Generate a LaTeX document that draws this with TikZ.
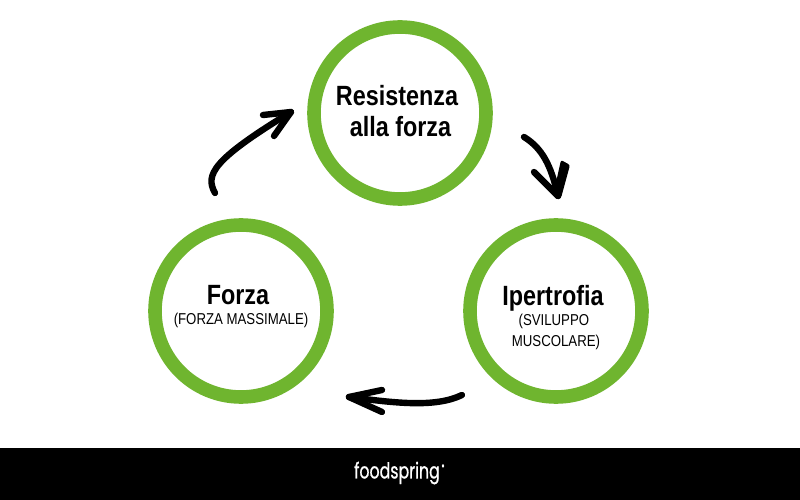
\documentclass[tikz,border=0pt]{standalone}
\usepackage{fontspec}
\setmainfont[FakeStretch=0.84]{Liberation Sans}
\newfontfamily\logofont[FakeStretch=0.72,FakeBold=0.8]{Poppins}
\definecolor{ringgreen}{HTML}{6FB52F}
\tikzset{x=0.25mm,y=-0.25mm,
  ring/.style={circle,draw=ringgreen,line width=3.4mm,minimum size=43mm,inner sep=0pt},
  title/.style={font=\fontsize{19.8}{22}\selectfont\bfseries,align=center,inner sep=0pt},
  subtitle/.style={font=\fontsize{11.2}{15.2}\selectfont,align=center,inner sep=0pt},
  sketch/.style={black,line width=1.6mm,line cap=round,line join=round}}
\begin{document}
\begin{tikzpicture}
   \useasboundingbox (0,0) rectangle (800,500);
   \fill[white] (0,0) rectangle (800,500);
   \fill[black] (0,448) rectangle (800,500);

   \node[ring] (resistenza) at (400,113) {};
   \node[ring] (ipertrofia) at (556,311) {};
   \node[ring] (forza) at (241,311) {};

   \node[title] (resistenzatext) at (397,111) {Resistenza\\\hspace*{5pt}alla forza};
   \node[title] (ipertrofiatext) at (553,298) {Ipertrofia};
   \node[subtitle] (ipertrofiasub) at (556,332) {\hspace*{-3pt}(SVILUPPO\\MUSCOLARE)};
   \node[title] (forzatext) at (238,295) {Forza};
   \node[subtitle] (forzasub) at (241,320) {(FORZA MASSIMALE)};

   \coordinate (a1) at (215,193);
   \coordinate (b1) at (291,112);
   \draw[sketch] (a1) .. controls (205,175) and (212,160) .. (b1);
   \draw[sketch] (263,115) -- (b1) -- (274,136);

   \coordinate (a2) at (524,137);
   \coordinate (b2) at (558,196);
   \draw[sketch] (a2) .. controls (542,148) and (551,165) .. (b2);
   \draw[sketch] (534,172) -- (b2);
   \fill[black,rounded corners=1.5pt] (561,160) -- (570,165) -- (561,198) -- (553,196) -- cycle;

   \coordinate (a3) at (462,395);
   \coordinate (b3) at (349,397);
   \draw[sketch] (a3) .. controls (435,408) and (395,403) .. (b3);
   \draw[sketch] (382,390) -- (b3) -- (382,412);

   \node[font=\logofont\fontsize{15.6}{18}\selectfont,text=white,inner sep=0pt] (logo) at (397,473) {foodspring};
   \node[font=\logofont\fontsize{5}{6}\selectfont,text=white,inner sep=0pt] (logomark) at (443,467) {®};
\end{tikzpicture}
\end{document}
